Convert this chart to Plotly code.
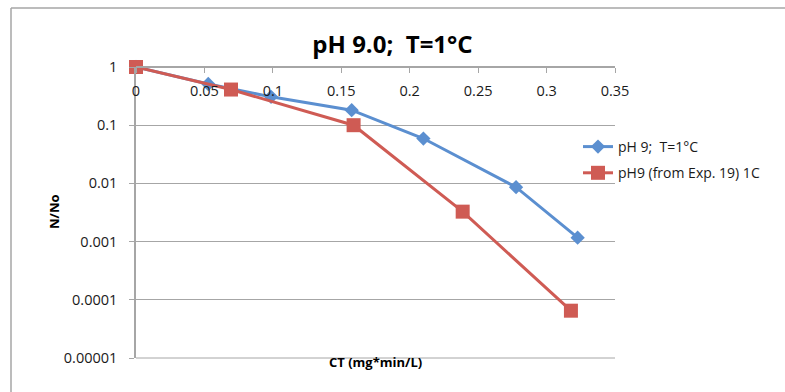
import plotly.graph_objects as go

blue_x = [0, 0.0528, 0.0987, 0.1576, 0.210, 0.2777, 0.3227]
blue_y = [1, 0.51, 0.307, 0.181, 0.059, 0.0086, 0.00117]
red_x = [0, 0.0694, 0.159, 0.2387, 0.3178]
red_y = [1, 0.41, 0.1, 0.00327, 0.000065]

x_ticks = [0, 0.05, 0.1, 0.15, 0.2, 0.25, 0.3, 0.35]
x_ticktext = ["0", "0.05", "0.1", "0.15", "0.2", "0.25", "0.3", "0.35"]
y_ticks = [1, 0.1, 0.01, 0.001, 0.0001, 0.00001]
y_ticktext = ["1", "0.1", "0.01", "0.001", "0.0001", "0.00001"]

FONT = "Open Sans"
GRID = "#a6a6a6"

fig = go.Figure()
fig.add_trace(go.Scatter(
    x=blue_x, y=blue_y, mode="lines+markers", name="pH 9;  T=1°C",
    legendgroup="a",
    line=dict(color="#5b8fd0", width=3),
    marker=dict(symbol="diamond", size=11, color="#5b8fd0"),
    cliponaxis=False,
))
fig.add_trace(go.Scatter(
    x=red_x, y=red_y, mode="lines+markers", name="pH9 (from Exp. 19) 1C",
    legendgroup="b",
    line=dict(color="#cf5b54", width=3),
    marker=dict(symbol="square", size=14, color="#cf5b54"),
    cliponaxis=False,
))

W, H = 785, 392
L, R, T, B = 136, 170, 67, 34
pw, ph = W - L - R, H - T - B

def px(xp):
    return (xp - L) / pw

def py(yp):
    return 1 - (yp - T) / ph

fig.update_layout(
    width=W, height=H,
    margin=dict(l=L, r=R, t=T, b=B),
    paper_bgcolor="white", plot_bgcolor="white",
    font=dict(family=FONT, size=14, color="#1a1a1a"),
    showlegend=True,
    legend=dict(x=px(578), y=py(131), xanchor="left", yanchor="top",
                bgcolor="rgba(0,0,0,0)", font=dict(size=14, family=FONT),
                itemwidth=30, tracegroupgap=5),
    title=dict(text="<b>pH 9.0;  T=1°C</b>", x=0.5, xanchor="center",
               y=1 - 45 / H, yanchor="middle", font=dict(size=24, family=FONT, color="black")),
    xaxis=dict(
        range=[0, 0.35], tickvals=x_ticks, ticktext=x_ticktext,
        side="bottom", anchor="free", position=1,
        showline=True, linecolor=GRID, linewidth=1.5,
        ticks="outside", ticklen=5, tickcolor=GRID, tickwidth=1,
        ticklabelstandoff=6,
        showgrid=False, zeroline=False,
        tickfont=dict(size=14.5, family=FONT),
    ),
    yaxis=dict(
        type="log", range=[-5, 0], tickvals=y_ticks, ticktext=y_ticktext,
        showline=True, linecolor=GRID, linewidth=1.5,
        ticks="outside", ticklen=5, tickcolor=GRID, tickwidth=1,
        ticklabelstandoff=9,
        showgrid=True, gridcolor=GRID, gridwidth=1, zeroline=False,
        tickfont=dict(size=14.5, family=FONT),
    ),
    annotations=[
        dict(text="<b>CT (mg*min/L)</b>", x=px(375), y=py(373), xref="paper", yref="paper",
             showarrow=False, font=dict(size=13, family=FONT, color="black")),
        dict(text="<b>N/No</b>", x=px(43), y=py(212), xref="paper", yref="paper",
             showarrow=False, textangle=-90, font=dict(size=13, family=FONT, color="black")),
    ],
    shapes=[
        dict(type="line", xref="paper", yref="paper", x0=px(11), x1=px(11), y0=py(400), y1=py(8),
             line=dict(color=GRID, width=1.5)),
        dict(type="line", xref="paper", yref="paper", x0=px(11), x1=px(800), y0=py(8), y1=py(8),
             line=dict(color=GRID, width=1.5)),
        dict(type="line", xref="paper", yref="paper", x0=0, x1=1, y0=0, y1=0,
             line=dict(color=GRID, width=1)),
    ],
)

fig.write_html("out.html")
